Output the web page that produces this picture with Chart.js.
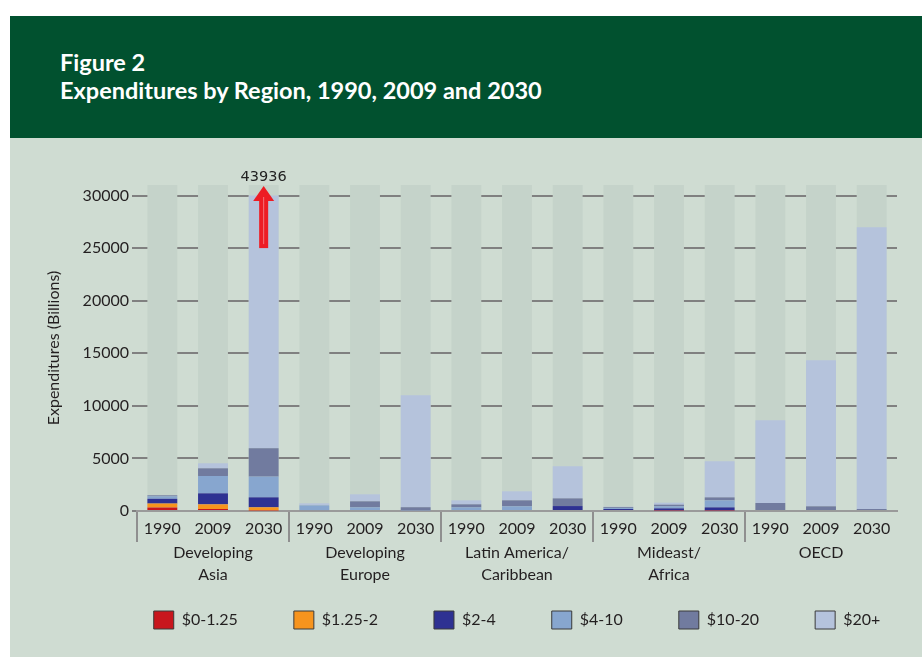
<!DOCTYPE html>
<html lang="en">
<head>
  <meta charset="UTF-8" />
  <title>Expenditures by Region</title>
  <script src="https://cdn.jsdelivr.net/npm/chart.js"></script>
  <style>
    body { margin: 0; background: #fff; width: 922px; height: 657px; position: relative; overflow: hidden; font-family: Lato, sans-serif; }
    .header { position: absolute; left: 10px; top: 16px; width: 912px; height: 122px; background: #01512f; color: #fff; }
    .header h1 { margin: 0; position: absolute; left: 50px; top: 32px; font-size: 23.5px; line-height: 28px; font-weight: 700; }
    .panel { position: absolute; left: 10px; top: 138px; width: 912px; height: 519px; background: #cfdcd2; }
  </style>
</head>
<body>
  <div class="header">
    <h1>Figure 2<br>Expenditures by Region, 1990, 2009 and 2030</h1>
  </div>
  <div class="panel">
    <canvas id="chart" width="912" height="519"></canvas>
  </div>

  <script>
    // categories
    const regions = [["Developing", "Asia"], ["Developing", "Europe"], ["Latin America/", "Caribbean"], ["Mideast/", "Africa"], ["OECD"]];
    const years = ["1990", "2009", "2030"];
    const yearLabels = regions.flatMap(() => years);

    // expenditure bands (billions), order: region x year
    const bands = ["$0-1.25", "$1.25-2", "$2-4", "$4-10", "$10-20", "$20+"];
    const band0to125 = [330, 190, 60, 0, 0, 0, 0, 0, 0, 0, 60, 60, 0, 0, 0];
    const band125to2 = [380, 440, 290, 0, 0, 0, 0, 0, 0, 0, 0, 0, 0, 0, 0];
    const band2to4 = [450, 1050, 950, 90, 0, 0, 95, 95, 470, 190, 190, 285, 0, 0, 0];
    const band4to10 = [230, 1650, 1970, 440, 350, 60, 250, 350, 0, 100, 190, 665, 0, 0, 0];
    const band10to20 = [100, 730, 2700, 10, 570, 300, 290, 570, 730, 80, 160, 285, 760, 445, 190];
    const band20plus = [30, 480, 37966, 190, 670, 10640, 380, 860, 3050, 40, 190, 3425, 7860, 13890, 26800];
    const bandColors = ["#c8161d", "#f7941d", "#2e3192", "#87a6cf", "#717b9f", "#b5c3dc"];

    // axis
    const yTicks = [0, 5000, 10000, 15000, 20000, 25000, 30000];
    const yCap = 30000;     // bars taller than this are cut and labelled
    const yTop = 31000;     // top of the grey backdrop columns

    const series = [band0to125, band125to2, band2to4, band4to10, band10to20, band20plus];
    const totals = yearLabels.map((_, i) => series.reduce((s, arr) => s + arr[i], 0));

    const font = { family: "Lato, sans-serif", size: 16 };
    const ink = "#231f20";

    const datasets = series.map((arr, k) => ({
      label: bands[k],
      data: arr.map((v, i) => totals[i] > yCap && k === series.length - 1 ? yCap - (totals[i] - v) : v),
      backgroundColor: bandColors[k],
      borderWidth: 0,
      stack: "main",
      barPercentage: 0.59,
      categoryPercentage: 1
    }));
    datasets.push({
      label: "backdrop",
      data: yearLabels.map(() => yTop),
      backgroundColor: "#c5d3ca",
      borderWidth: 0,
      stack: "bg",
      grouped: false,
      order: 1,
      barPercentage: 0.59,
      categoryPercentage: 1
    });

    // off-scale total with red arrow
    const offScale = {
      id: "offScale",
      afterDatasetsDraw(chart) {
        const { ctx, scales: { x, y }, chartArea } = chart;
        totals.forEach((t, i) => {
          if (t <= yCap) return;
          const cx = x.getPixelForValue(i);
          const yb = y.getPixelForValue(25000);
          const yt = chartArea.top + 1;
          const yh = yt + 15;
          ctx.save();
          ctx.fillStyle = "#ed1c24";
          ctx.fillRect(cx - 4.5, yh, 9, yb - yh);
          ctx.beginPath();
          ctx.moveTo(cx - 10.5, yh);
          ctx.lineTo(cx, yt);
          ctx.lineTo(cx + 10.5, yh);
          ctx.closePath();
          ctx.fill();
          ctx.strokeStyle = "#f4747a";
          ctx.lineWidth = 1;
          ctx.beginPath();
          ctx.moveTo(cx, yh - 4);
          ctx.lineTo(cx, yb - 4);
          ctx.stroke();
          ctx.fillStyle = "#222";
          ctx.font = "14.5px 'DejaVu Sans'";
          ctx.textAlign = "center";
          ctx.textBaseline = "middle";
          ctx.fillText(String(t), cx, chartArea.top - 8);
          ctx.restore();
        });
      }
    };

    // legend sits centred under the plot, a little closer to the region names
    const legendPlace = {
      id: "legendPlace",
      afterLayout(chart) {
        const l = chart.legend;
        const dx = (chart.chartArea.left + chart.chartArea.right) / 2 - (l.left + l.right) / 2;
        l.left += dx; l.right += dx;
        l.top -= 40; l.bottom -= 40;
      }
    };

    new Chart(document.getElementById("chart"), {
      type: "bar",
      data: { labels: yearLabels, datasets },
      plugins: [offScale, legendPlace],
      options: {
        responsive: false,
        animation: false,
        layout: { padding: { top: 47, right: 25, left: 0, bottom: -22 } },
        plugins: {
          tooltip: { enabled: false },
          legend: {
            position: "bottom",
            labels: {
              boxWidth: 20,
              boxHeight: 18,
              padding: 56,
              color: ink,
              font,
              generateLabels: chart => Chart.defaults.plugins.legend.labels.generateLabels(chart)
                .filter(l => l.datasetIndex < bands.length)
                .map(l => ({ ...l, strokeStyle: "#3a3a3a", lineWidth: 1 }))
            }
          }
        },
        scales: {
          x: {
            stacked: true,
            offset: true,
            grid: {
              offset: true,
              drawOnChartArea: false,
              tickLength: 31,
              lineWidth: 2,
              color: ctx => ctx.index % 3 === 0 ? "#8f8f8f" : "rgba(0,0,0,0)"
            },
            border: { display: true, color: "#9a9a9a", width: 2 },
            ticks: { color: ink, font, padding: -23, maxRotation: 0, autoSkip: false },
            afterFit: s => { s.height = 32; }
          },
          x2: {
            type: "category",
            position: "bottom",
            labels: regions,
            offset: true,
            grid: { display: false, drawTicks: false },
            border: { display: false },
            ticks: { color: ink, font: { ...font, lineHeight: 1.35 }, padding: -1, maxRotation: 0, autoSkip: false },
            afterFit: s => { s.height = 52; }
          },
          y: {
            stacked: true,
            min: 0,
            max: yTop,
            grid: { color: "#808080", lineWidth: 2, tickLength: 5 },
            border: { display: false },
            ticks: { color: ink, font, padding: 3, callback: v => String(v) },
            afterBuildTicks: s => { s.ticks = yTicks.map(v => ({ value: v })); },
            title: {
              display: true,
              text: "Expenditures (Billions)",
              color: ink,
              font,
              padding: { top: 34, bottom: 0 }
            },
            afterFit: s => { s.width = 127; }
          }
        }
      }
    });
  </script>
</body>
</html>
